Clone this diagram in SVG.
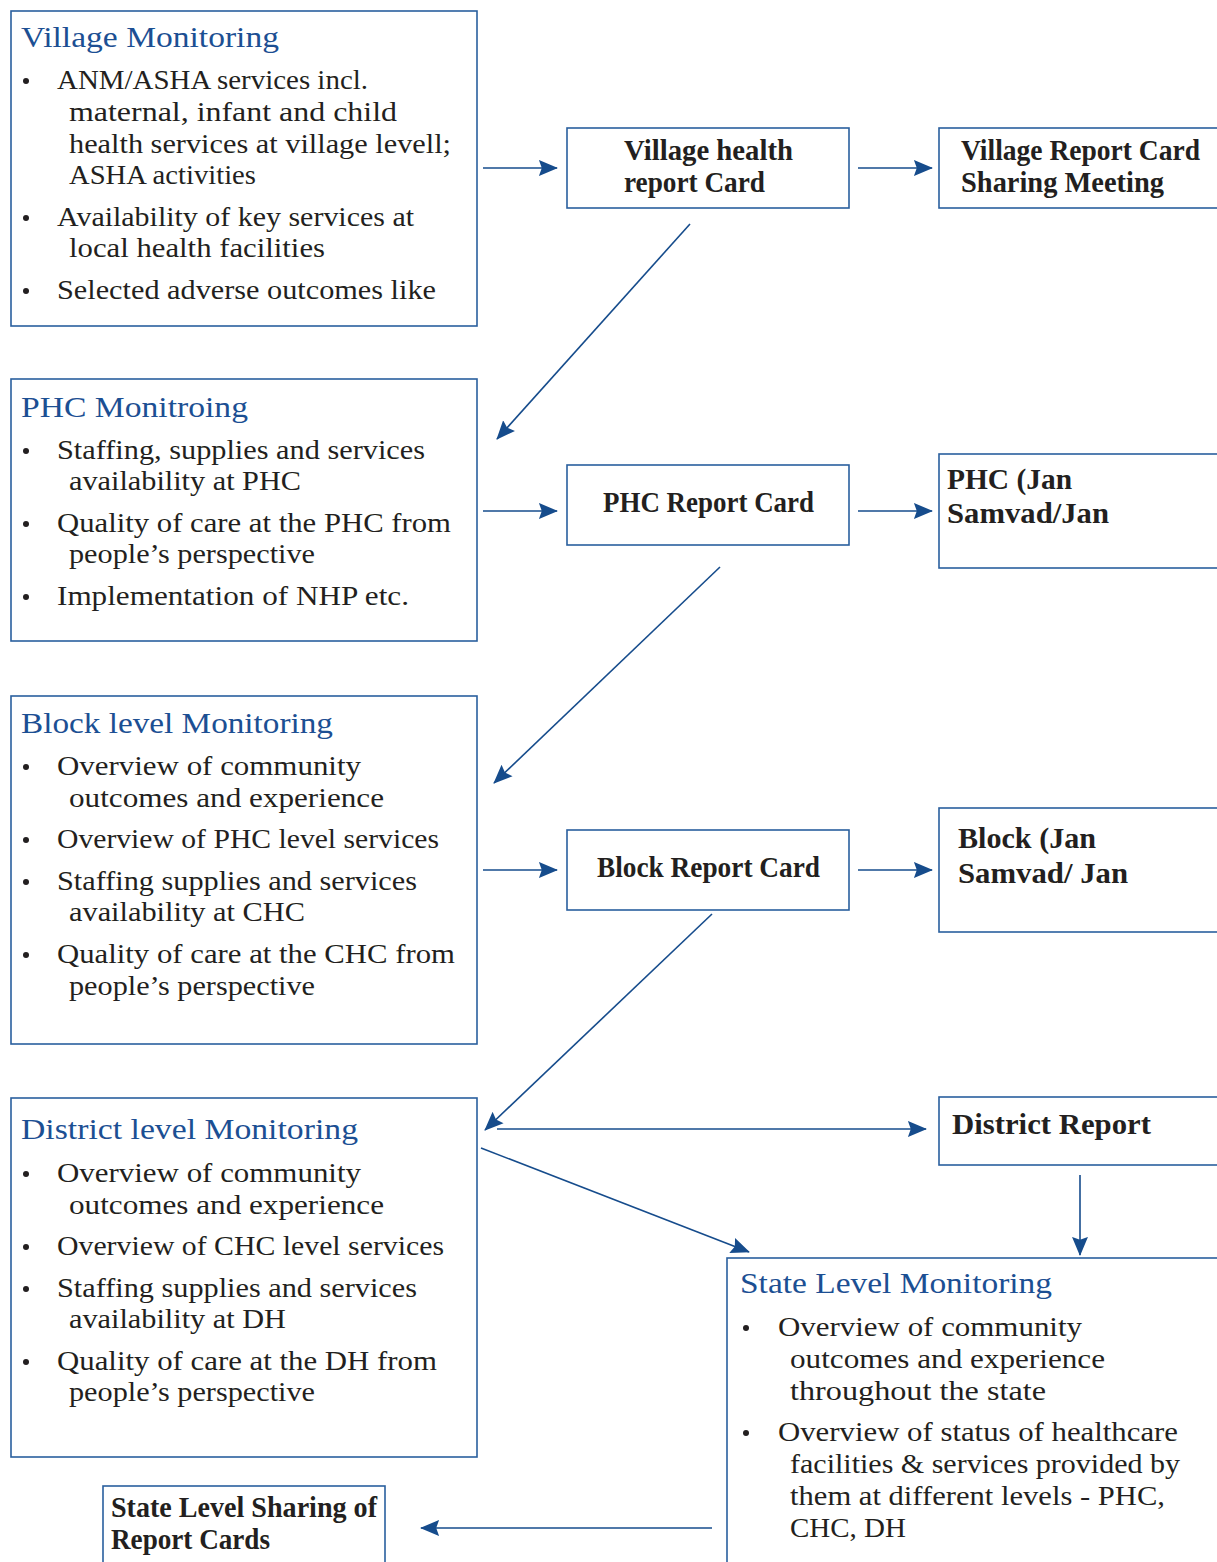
<svg xmlns="http://www.w3.org/2000/svg" width="1217" height="1562" viewBox="0 0 1217 1562">
<style>
.box{fill:#fff;stroke:#2a5f9e;stroke-width:1.6}
.ttl{font-family:"Liberation Serif",serif;font-size:30px;fill:#1c4f93}
.tx{font-family:"Liberation Serif",serif;font-size:27px;fill:#231f20}
.bt{font-family:"Liberation Serif",serif;font-size:29px;fill:#231f20;font-weight:bold}
.dot{fill:#231f20}
.con{stroke:#164c8c;stroke-width:1.6;fill:none;marker-end:url(#ah)}
</style>
<defs>
<marker id="ah" viewBox="0 0 10 10" refX="9.5" refY="5" markerWidth="19" markerHeight="19" markerUnits="userSpaceOnUse" orient="auto">
<path d="M0,0.8 L10,5 L0,9.2 L1.5,5 z" fill="#164c8c"/>
</marker>
</defs>
<rect width="1217" height="1562" fill="#fff"/>

<g id="connectors">
<line class="con" x1="483" y1="168" x2="557" y2="168"/>
<line class="con" x1="858" y1="168" x2="932" y2="168"/>
<line class="con" x1="690" y1="224" x2="497" y2="439"/>
<line class="con" x1="483" y1="511" x2="557" y2="511"/>
<line class="con" x1="858" y1="511" x2="932" y2="511"/>
<line class="con" x1="720" y1="567" x2="494" y2="783"/>
<line class="con" x1="483" y1="870" x2="557" y2="870"/>
<line class="con" x1="858" y1="870" x2="932" y2="870"/>
<line class="con" x1="712" y1="914" x2="485" y2="1130"/>
<line class="con" x1="497" y1="1129" x2="926" y2="1129"/>
<line class="con" x1="481" y1="1148" x2="749" y2="1252"/>
<line class="con" x1="1080" y1="1175" x2="1080" y2="1255"/>
<line class="con" x1="712" y1="1528" x2="421" y2="1528"/>
</g>

<g id="village-monitoring">
<rect class="box" x="11" y="11" width="466" height="315"/>
<text class="ttl" x="21" y="47" textLength="258" lengthAdjust="spacingAndGlyphs">Village Monitoring</text>
<circle class="dot" cx="26" cy="81" r="3"/>
<text class="tx" x="57" y="89" textLength="311" lengthAdjust="spacingAndGlyphs">ANM/ASHA services incl.</text>
<text class="tx" x="69" y="121" textLength="328" lengthAdjust="spacingAndGlyphs">maternal, infant and child</text>
<text class="tx" x="69" y="153" textLength="382" lengthAdjust="spacingAndGlyphs">health services at village levell;</text>
<text class="tx" x="69" y="184" textLength="187" lengthAdjust="spacingAndGlyphs">ASHA activities</text>
<circle class="dot" cx="26" cy="218" r="3"/>
<text class="tx" x="57" y="226" textLength="357" lengthAdjust="spacingAndGlyphs">Availability of key services at</text>
<text class="tx" x="69" y="257" textLength="256" lengthAdjust="spacingAndGlyphs">local health facilities</text>
<circle class="dot" cx="26" cy="291" r="3"/>
<text class="tx" x="57" y="299" textLength="379" lengthAdjust="spacingAndGlyphs">Selected adverse outcomes like</text>
</g>

<g id="village-health-report-card">
<rect class="box" x="567" y="128" width="282" height="80"/>
<text class="bt" x="624" y="160" textLength="169" lengthAdjust="spacingAndGlyphs">Village health</text>
<text class="bt" x="624" y="192" textLength="141" lengthAdjust="spacingAndGlyphs">report Card</text>
</g>

<g id="village-report-card-sharing">
<rect class="box" x="939" y="128" width="290" height="80"/>
<text class="bt" x="961" y="160" textLength="239" lengthAdjust="spacingAndGlyphs">Village Report Card</text>
<text class="bt" x="961" y="192" textLength="203" lengthAdjust="spacingAndGlyphs">Sharing Meeting</text>
</g>

<g id="phc-monitoring">
<rect class="box" x="11" y="379" width="466" height="262"/>
<text class="ttl" x="21" y="417" textLength="227" lengthAdjust="spacingAndGlyphs">PHC Monitroing</text>
<circle class="dot" cx="26" cy="451" r="3"/>
<text class="tx" x="57" y="459" textLength="368" lengthAdjust="spacingAndGlyphs">Staffing, supplies and services</text>
<text class="tx" x="69" y="490" textLength="232" lengthAdjust="spacingAndGlyphs">availability at PHC</text>
<circle class="dot" cx="26" cy="524" r="3"/>
<text class="tx" x="57" y="532" textLength="394" lengthAdjust="spacingAndGlyphs">Quality of care at the PHC from</text>
<text class="tx" x="69" y="563" textLength="246" lengthAdjust="spacingAndGlyphs">people’s perspective</text>
<circle class="dot" cx="26" cy="597" r="3"/>
<text class="tx" x="57" y="605" textLength="352" lengthAdjust="spacingAndGlyphs">Implementation of NHP etc.</text>
</g>

<g id="phc-report-card">
<rect class="box" x="567" y="465" width="282" height="80"/>
<text class="bt" x="603" y="512" textLength="211" lengthAdjust="spacingAndGlyphs">PHC Report Card</text>
</g>

<g id="phc-jan-samvad">
<rect class="box" x="939" y="454" width="290" height="114"/>
<text class="bt" x="947" y="489" textLength="125" lengthAdjust="spacingAndGlyphs">PHC (Jan</text>
<text class="bt" x="947" y="523" textLength="162" lengthAdjust="spacingAndGlyphs">Samvad/Jan</text>
</g>

<g id="block-monitoring">
<rect class="box" x="11" y="696" width="466" height="348"/>
<text class="ttl" x="21" y="733" textLength="312" lengthAdjust="spacingAndGlyphs">Block level Monitoring</text>
<circle class="dot" cx="26" cy="767" r="3"/>
<text class="tx" x="57" y="775" textLength="304" lengthAdjust="spacingAndGlyphs">Overview of community</text>
<text class="tx" x="69" y="807" textLength="315" lengthAdjust="spacingAndGlyphs">outcomes and experience</text>
<circle class="dot" cx="26" cy="840" r="3"/>
<text class="tx" x="57" y="848" textLength="382" lengthAdjust="spacingAndGlyphs">Overview of PHC level services</text>
<circle class="dot" cx="26" cy="882" r="3"/>
<text class="tx" x="57" y="890" textLength="360" lengthAdjust="spacingAndGlyphs">Staffing supplies and services</text>
<text class="tx" x="69" y="921" textLength="236" lengthAdjust="spacingAndGlyphs">availability at CHC</text>
<circle class="dot" cx="26" cy="955" r="3"/>
<text class="tx" x="57" y="963" textLength="398" lengthAdjust="spacingAndGlyphs">Quality of care at the CHC from</text>
<text class="tx" x="69" y="995" textLength="246" lengthAdjust="spacingAndGlyphs">people’s perspective</text>
</g>

<g id="block-report-card">
<rect class="box" x="567" y="830" width="282" height="80"/>
<text class="bt" x="597" y="877" textLength="223" lengthAdjust="spacingAndGlyphs">Block Report Card</text>
</g>

<g id="block-jan-samvad">
<rect class="box" x="939" y="808" width="290" height="124"/>
<text class="bt" x="958" y="848" textLength="138" lengthAdjust="spacingAndGlyphs">Block (Jan</text>
<text class="bt" x="958" y="883" textLength="170" lengthAdjust="spacingAndGlyphs">Samvad/ Jan</text>
</g>

<g id="district-monitoring">
<rect class="box" x="11" y="1098" width="466" height="359"/>
<text class="ttl" x="21" y="1139" textLength="337" lengthAdjust="spacingAndGlyphs">District level Monitoring</text>
<circle class="dot" cx="26" cy="1174" r="3"/>
<text class="tx" x="57" y="1182" textLength="304" lengthAdjust="spacingAndGlyphs">Overview of community</text>
<text class="tx" x="69" y="1214" textLength="315" lengthAdjust="spacingAndGlyphs">outcomes and experience</text>
<circle class="dot" cx="26" cy="1247" r="3"/>
<text class="tx" x="57" y="1255" textLength="387" lengthAdjust="spacingAndGlyphs">Overview of CHC level services</text>
<circle class="dot" cx="26" cy="1289" r="3"/>
<text class="tx" x="57" y="1297" textLength="360" lengthAdjust="spacingAndGlyphs">Staffing supplies and services</text>
<text class="tx" x="69" y="1328" textLength="217" lengthAdjust="spacingAndGlyphs">availability at DH</text>
<circle class="dot" cx="26" cy="1362" r="3"/>
<text class="tx" x="57" y="1370" textLength="380" lengthAdjust="spacingAndGlyphs">Quality of care at the DH from</text>
<text class="tx" x="69" y="1401" textLength="246" lengthAdjust="spacingAndGlyphs">people’s perspective</text>
</g>

<g id="district-report">
<rect class="box" x="939" y="1097" width="290" height="68"/>
<text class="bt" x="952" y="1134" textLength="199" lengthAdjust="spacingAndGlyphs">District Report</text>
</g>

<g id="state-monitoring">
<rect class="box" x="727" y="1258" width="500" height="320"/>
<text class="ttl" x="740" y="1293" textLength="312" lengthAdjust="spacingAndGlyphs">State Level Monitoring</text>
<circle class="dot" cx="746" cy="1328" r="3"/>
<text class="tx" x="778" y="1336" textLength="304" lengthAdjust="spacingAndGlyphs">Overview of community</text>
<text class="tx" x="790" y="1368" textLength="315" lengthAdjust="spacingAndGlyphs">outcomes and experience</text>
<text class="tx" x="790" y="1400" textLength="256" lengthAdjust="spacingAndGlyphs">throughout the state</text>
<circle class="dot" cx="746" cy="1433" r="3"/>
<text class="tx" x="778" y="1441" textLength="400" lengthAdjust="spacingAndGlyphs">Overview of status of healthcare</text>
<text class="tx" x="790" y="1473" textLength="390" lengthAdjust="spacingAndGlyphs">facilities &amp; services provided by</text>
<text class="tx" x="790" y="1505" textLength="375" lengthAdjust="spacingAndGlyphs">them at different levels - PHC,</text>
<text class="tx" x="790" y="1537" textLength="116" lengthAdjust="spacingAndGlyphs">CHC, DH</text>
</g>

<g id="state-sharing">
<rect class="box" x="103" y="1486" width="282" height="90"/>
<text class="bt" x="111" y="1517" textLength="266" lengthAdjust="spacingAndGlyphs">State Level Sharing of</text>
<text class="bt" x="111" y="1549" textLength="159" lengthAdjust="spacingAndGlyphs">Report Cards</text>
</g>
</svg>
